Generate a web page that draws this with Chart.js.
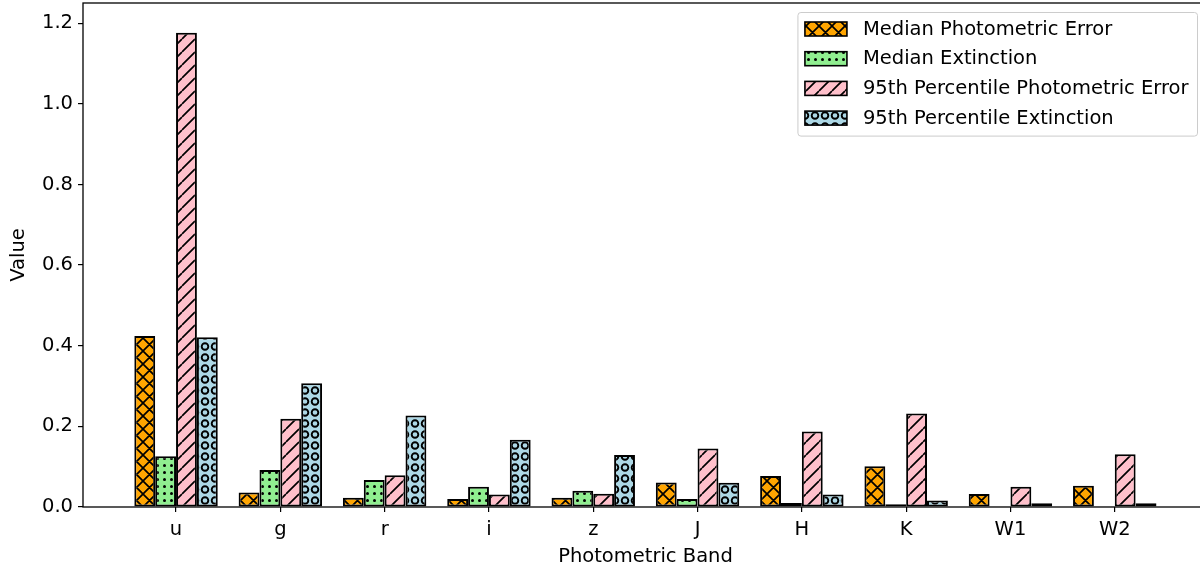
<!DOCTYPE html>
<html>
<head>
<meta charset="utf-8">
<script src="https://cdn.jsdelivr.net/npm/chart.js@4.4.0/dist/chart.umd.min.js"></script>
<style>
  html, body { margin: 0; padding: 0; background: #fff; overflow: hidden; width: 1200px; height: 569px; }
  #wrap { width: 1211px; height: 569px; }
  canvas { display: block; }
</style>
</head>
<body>
<div id="wrap"><canvas id="c" width="1211" height="569"></canvas></div>
<script>
// Photometric bands along the x axis
const bands = ['u', 'g', 'r', 'i', 'z', 'J', 'H', 'K', 'W1', 'W2'];

// Series values per band
const medianPhotErr = [0.424, 0.036, 0.023, 0.020, 0.023, 0.061, 0.077, 0.101, 0.032, 0.053];
const medianExt     = [0.126, 0.092, 0.067, 0.050, 0.040, 0.020, 0.010, 0.007, 0.002, 0.002];
const p95PhotErr    = [1.176, 0.219, 0.079, 0.031, 0.033, 0.145, 0.187, 0.232, 0.050, 0.131];
const p95Ext        = [0.421, 0.307, 0.227, 0.167, 0.129, 0.060, 0.031, 0.016, 0.009, 0.009];

const seriesLabels = [
  'Median Photometric Error',
  'Median Extinction',
  '95th Percentile Photometric Error',
  '95th Percentile Extinction'
];

const yTickStep = 0.2;
const FONT = '"DejaVu Sans", sans-serif';
const FS = 19.5;

const canvas = document.getElementById('c');
const mainCtx = canvas.getContext('2d');

// Hatched fills built on small tiles
function makePattern(w, h, fill, draw) {
  const t = document.createElement('canvas');
  t.width = w; t.height = h;
  const g = t.getContext('2d');
  g.fillStyle = fill;
  g.fillRect(0, 0, w, h);
  g.strokeStyle = '#000';
  g.fillStyle = '#000';
  draw(g, w, h);
  return mainCtx.createPattern(t, 'repeat');
}

const crossFill = makePattern(13, 13, '#FFA500', (g, w, h) => {
  g.lineWidth = 1.7;
  g.beginPath();
  for (const o of [-w, 0, w]) {
    g.moveTo(o, 0); g.lineTo(o + w, h);
    g.moveTo(o, h); g.lineTo(o + w, 0);
  }
  g.stroke();
});

const dotFill = makePattern(7, 7, '#90EE90', (g) => {
  g.beginPath();
  g.arc(3.5, 3.5, 1.5, 0, Math.PI * 2);
  g.fill();
});

const stripeFill = makePattern(13, 13, '#FFC0CB', (g, w, h) => {
  g.lineWidth = 1.7;
  g.beginPath();
  for (const o of [-w, 0, w]) {
    g.moveTo(o, h); g.lineTo(o + w, 0);
  }
  g.stroke();
});

const ringFill = makePattern(10, 11, '#ADD8E6', (g) => {
  g.lineWidth = 1.9;
  g.beginPath();
  g.arc(5, 5.5, 3.3, 0, Math.PI * 2);
  g.stroke();
});

const fills = [crossFill, dotFill, stripeFill, ringFill];
const seriesValues = [medianPhotErr, medianExt, p95PhotErr, p95Ext];

const datasets = seriesValues.map((vals, k) => ({
  label: seriesLabels[k],
  data: vals.map((v, i) => ({ x: i, y: v })),
  backgroundColor: fills[k],
  borderColor: '#000',
  borderWidth: 2,
  borderSkipped: false,
  categoryPercentage: 0.8,
  barPercentage: 1.0
}));

// Axes frame drawn above the bars
const framePlugin = {
  id: 'frame',
  afterDatasetsDraw(chart) {
    const { ctx, chartArea: a } = chart;
    ctx.save();
    ctx.strokeStyle = '#000';
    ctx.lineWidth = 1.3;
    ctx.strokeRect(a.left, a.top, a.right - a.left, a.bottom - a.top);
    ctx.restore();
  }
};

// Framed legend in the upper right corner of the plot
const legendPlugin = {
  id: 'boxLegend',
  afterDraw(chart) {
    const { ctx, chartArea: a } = chart;
    ctx.save();
    ctx.font = FS + 'px ' + FONT;
    const maxW = Math.max(...chart.data.datasets.map(d => ctx.measureText(d.label).width));
    const right = a.right - 10.5;
    const top = a.top + 9.5;
    const width = 65 + maxW + 9;
    const left = right - width;
    const rowH = 29.7;
    const height = 16.5 + rowH * (chart.data.datasets.length - 1) + 18;

    ctx.beginPath();
    ctx.roundRect(left, top, width, height, 3);
    ctx.fillStyle = 'rgba(255,255,255,0.8)';
    ctx.fill();
    ctx.strokeStyle = '#cccccc';
    ctx.lineWidth = 1;
    ctx.stroke();

    chart.data.datasets.forEach((d, k) => {
      const cy = top + 16.5 + k * rowH;
      ctx.fillStyle = d.backgroundColor;
      ctx.fillRect(left + 7, cy - 7, 42, 14);
      ctx.strokeStyle = '#000';
      ctx.lineWidth = 1.6;
      ctx.strokeRect(left + 7, cy - 7, 42, 14);
      ctx.fillStyle = '#000';
      ctx.textBaseline = 'middle';
      ctx.textAlign = 'left';
      ctx.fillText(d.label, left + 65, cy + 0.5);
    });
    ctx.restore();
  }
};

new Chart(mainCtx, {
  type: 'bar',
  data: { datasets },
  options: {
    responsive: false,
    animation: false,
    events: [],
    layout: { padding: { top: 3, right: 3, left: 0, bottom: 0 } },
    plugins: { legend: { display: false }, tooltip: { enabled: false } },
    scales: {
      x: {
        type: 'linear',
        min: -0.892,
        max: 9.894,
        offset: false,
        border: { display: false },
        grid: { offset: false, drawOnChartArea: false, drawTicks: true, tickLength: 5, color: '#000', lineWidth: 1.2 },
        ticks: {
          autoSkip: false,
          maxRotation: 0,
          includeBounds: false,
          padding: 6,
          color: '#000',
          font: { family: FONT, size: FS },
          callback: (v) => bands[v] !== undefined ? bands[v] : ''
        },
        afterBuildTicks: (axis) => { axis.ticks = bands.map((_, i) => ({ value: i })); },
        afterFit: (axis) => { axis.height = 62; axis.paddingLeft = 0; axis.paddingRight = 0; },
        title: {
          display: true,
          text: 'Photometric Band',
          color: '#000',
          font: { family: FONT, size: FS },
          padding: { top: 0, bottom: 0 }
        }
      },
      y: {
        min: 0,
        max: 1.25,
        border: { display: false },
        grid: { drawOnChartArea: false, drawTicks: true, tickLength: 5, color: '#000', lineWidth: 1.2 },
        ticks: {
          stepSize: yTickStep,
          includeBounds: false,
          padding: 5,
          color: '#000',
          font: { family: FONT, size: FS },
          callback: (v) => Number(v).toFixed(1)
        },
        afterFit: (axis) => { axis.width = 83; axis.paddingTop = 0; axis.paddingBottom = 0; },
        title: {
          display: true,
          text: 'Value',
          color: '#000',
          font: { family: FONT, size: FS },
          padding: { top: 7.6, bottom: 0 }
        }
      }
    }
  },
  plugins: [framePlugin, legendPlugin]
});
</script>
</body>
</html>
